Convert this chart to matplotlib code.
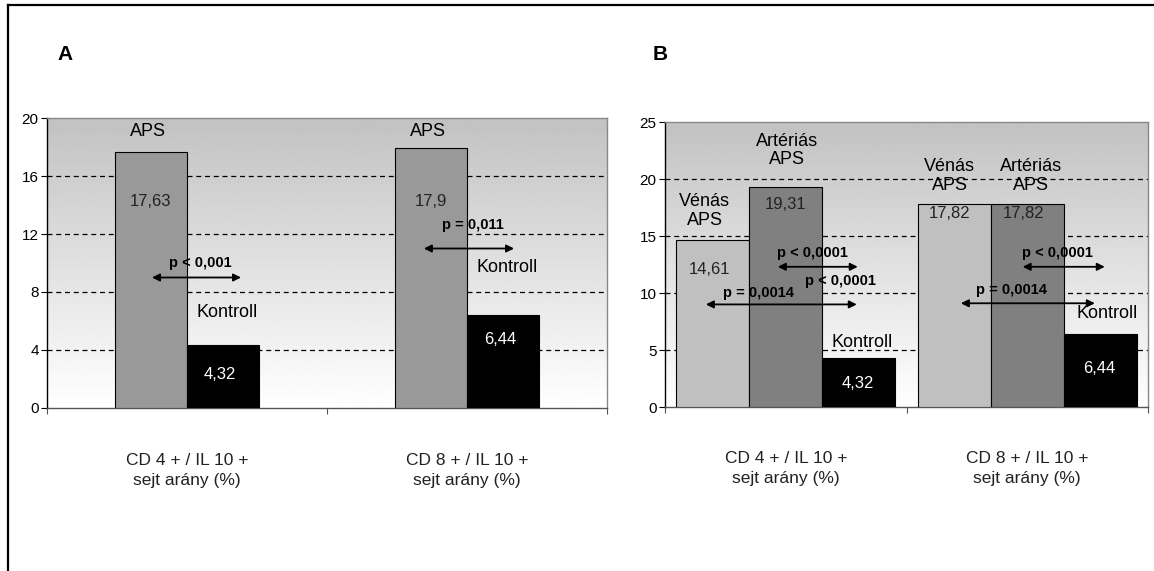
"""Recreation: CD4+/IL10+ and CD8+/IL10+ cell ratios, APS vs Kontroll (panels A and B)."""

import numpy as np
import matplotlib
matplotlib.use("Agg")
import matplotlib.pyplot as plt
from matplotlib.lines import Line2D

plt.rcParams["font.family"] = ["Liberation Sans", "DejaVu Sans"]

# ---- data ----
categories = ["CD 4 + / IL 10 +\nsejt arány (%)", "CD 8 + / IL 10 +\nsejt arány (%)"]

a_aps = [17.63, 17.9]
a_kontroll = [4.32, 6.44]

b_venas = [14.61, 17.82]
b_arterias = [19.31, 17.82]
b_kontroll = [4.32, 6.44]

a_pvalues = ["p < 0,001", "p = 0,011"]
b_pvalues_upper = ["p < 0,0001", "p < 0,0001"]
b_pvalues_lower = ["p = 0,0014", "p = 0,0014"]
b_pvalues_extra = ["p < 0,0001"]


def fmt(v):
    return f"{v:g}".replace(".", ",")


def style_axes(ax, ymax, step):
    x = np.arange(len(categories))
    grad = np.linspace(0.76, 1.0, 256).reshape(-1, 1)
    ax.imshow(grad, extent=[-0.5, len(categories) - 0.5, 0, ymax], aspect="auto",
              cmap="gray", vmin=0, vmax=1, origin="upper", zorder=0)
    for t in np.arange(step, ymax, step):
        ax.axhline(t, color="black", lw=0.9, ls=(0, (4, 3)), zorder=1)
    ax.set_xlim(-0.5, len(categories) - 0.5)
    ax.set_ylim(0, ymax)
    ax.set_yticks(np.arange(0, ymax + step, step))
    ax.set_xticks(np.arange(-0.5, len(categories), 1.0))
    ax.set_xticklabels([])
    ax.tick_params(axis="y", direction="out", length=4, width=0.8, labelsize=11, pad=2)
    ax.tick_params(axis="x", direction="out", length=4, width=0.8, color="#555555")
    for side in ("top", "right"):
        ax.spines[side].set_color("#888888")
        ax.spines[side].set_linewidth(1.0)
    ax.spines["left"].set_linewidth(1.0)
    ax.spines["bottom"].set_color("#555555")
    ax.spines["bottom"].set_linewidth(1.0)
    for i, lab in enumerate(categories):
        ax.text(x[i], -0.215, lab, transform=ax.get_xaxis_transform(), ha="center",
                va="center", fontsize=12.5, color="#222222", linespacing=1.45)


def arrow(ax, x1, x2, y):
    ax.annotate("", xy=(x2, y), xytext=(x1, y), zorder=6,
                arrowprops=dict(arrowstyle="<|-|>", color="black", lw=1.3,
                                mutation_scale=11, shrinkA=0, shrinkB=0))


fig = plt.figure(figsize=(11.54, 5.71), dpi=100)

# frame (left + top)
fig.add_artist(Line2D([0.0069, 0.0069], [0, 0.991], color="black", lw=1.6))
fig.add_artist(Line2D([0.0069, 1.0], [0.991, 0.991], color="black", lw=1.6))

fig.text(0.056, 0.904, "A", fontsize=15, fontweight="bold", ha="center", va="center")
fig.text(0.572, 0.904, "B", fontsize=15, fontweight="bold", ha="center", va="center")

# ---- Panel A ----
axA = fig.add_axes([0.0407, 0.2855, 0.4853, 0.5078])
style_axes(axA, 20, 4)
wa = 0.257
xa = np.arange(len(categories))
axA.bar(xa - wa / 2, a_aps, wa, color="#999999", edgecolor="black", lw=0.8, zorder=3)
axA.bar(xa + wa / 2, a_kontroll, wa, color="black", edgecolor="black", lw=0.8, zorder=3)

for i in range(len(categories)):
    axA.text(xa[i] - wa / 2 - 0.01, 19.1, "APS", ha="center", va="center", fontsize=13, zorder=5)
    axA.text(xa[i] - wa / 2, 14.25, fmt(a_aps[i]), ha="center", va="center",
             fontsize=12, color="#222222", zorder=5)
a_kon_y = [6.6, 9.7]
a_val_y = [2.3, 4.7]
a_p_pos = [(0.046, 10.0), (1.021, 12.6)]
a_arrows = [(-0.125, 0.193, 9.0), (0.846, 1.168, 11.0)]
for i in range(len(categories)):
    axA.text(xa[i] + 0.145, a_kon_y[i], "Kontroll", ha="center", va="center", fontsize=13, zorder=5)
    axA.text(xa[i] + wa / 2 - 0.01, a_val_y[i], fmt(a_kontroll[i]), ha="center", va="center",
             fontsize=12, color="white", zorder=5)
    axA.text(*a_p_pos[i], a_pvalues[i], ha="center", va="center", fontsize=10.5,
             fontweight="bold", zorder=7)
    arrow(axA, *a_arrows[i])

# ---- Panel B ----
axB = fig.add_axes([0.5763, 0.2872, 0.4185, 0.4991])
style_axes(axB, 25, 5)
wb = 0.302
xb = np.arange(len(categories))
axB.bar(xb - wb, b_venas, wb, color="#c0c0c0", edgecolor="black", lw=0.8, zorder=3)
axB.bar(xb, b_arterias, wb, color="#808080", edgecolor="black", lw=0.8, zorder=3)
axB.bar(xb + wb, b_kontroll, wb, color="black", edgecolor="black", lw=0.8, zorder=3)

venas_lab = [(-0.336, 17.2), (0.679, 20.3)]
art_lab = [(0.004, 22.5), (1.014, 20.3)]
venas_val = [(-0.315, 12.1), (0.679, 17.0)]
art_val = [(0.0, 17.8), (0.986, 17.0)]
kon_lab = [(0.315, 5.7), (1.329, 8.2)]
kon_val = [(0.298, 2.1), (1.30, 3.4)]
p_up_pos = [(0.112, 13.5), (1.126, 13.5)]
p_low_pos = [(-0.112, 10.0), (0.936, 10.3)]
arrows_up = [(-0.033, 0.298, 12.3), (0.981, 1.321, 12.3)]
arrows_low = [(-0.331, 0.294, 9.0), (0.725, 1.280, 9.1)]

for i in range(len(categories)):
    axB.text(*venas_lab[i], "Vénás\nAPS", ha="center", va="center", fontsize=13,
             linespacing=1.15, zorder=5)
    axB.text(*art_lab[i], "Artériás\nAPS", ha="center", va="center", fontsize=13,
             linespacing=1.15, zorder=5)
    axB.text(*venas_val[i], fmt(b_venas[i]), ha="center", va="center", fontsize=12,
             color="#222222", zorder=5)
    axB.text(*art_val[i], fmt(b_arterias[i]), ha="center", va="center", fontsize=12,
             color="#222222", zorder=5)
    axB.text(*kon_lab[i], "Kontroll", ha="center", va="center", fontsize=13, zorder=5)
    axB.text(*kon_val[i], fmt(b_kontroll[i]), ha="center", va="center", fontsize=12,
             color="white", zorder=5)
    axB.text(*p_up_pos[i], b_pvalues_upper[i], ha="center", va="center", fontsize=10.5,
             fontweight="bold", zorder=7)
    axB.text(*p_low_pos[i], b_pvalues_lower[i], ha="center", va="center", fontsize=10.5,
             fontweight="bold", zorder=7)
    arrow(axB, *arrows_up[i])
    arrow(axB, *arrows_low[i])

axB.text(0.228, 11.05, b_pvalues_extra[0], ha="center", va="center", fontsize=10.5,
         fontweight="bold", zorder=7)

fig.savefig("out.png", dpi=100)
plt.close(fig)
